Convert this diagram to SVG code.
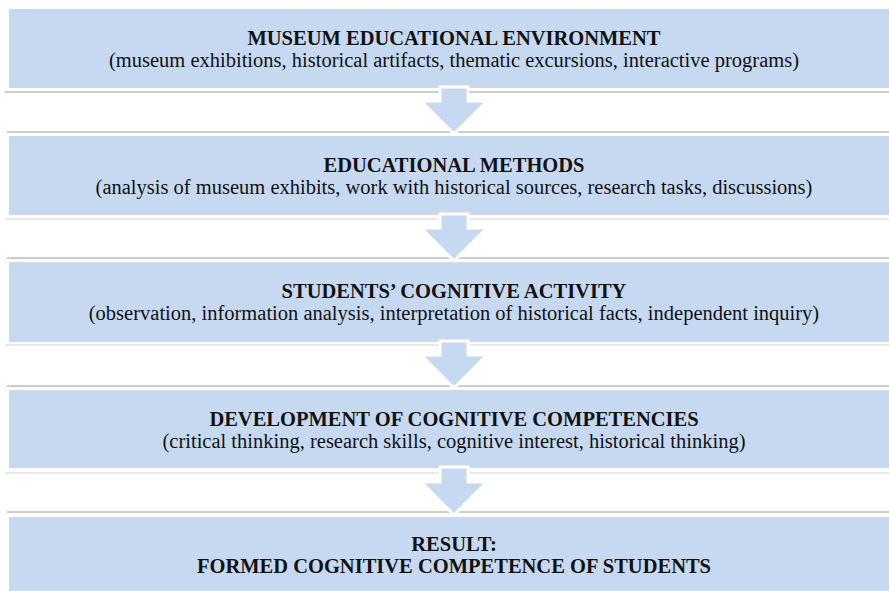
<svg xmlns="http://www.w3.org/2000/svg" width="889" height="591" viewBox="0 0 889 591">
<style>
.box{fill:#C6D9F1}
.t{font-family:"Liberation Serif","Times New Roman",serif;font-size:20.5px;fill:#111;text-anchor:middle}
.b{font-weight:bold}
.l1{stroke:#d4d4d4;stroke-width:1.2}
.l2{stroke:#bdbdbd;stroke-width:1.5}
.arr{fill:#C6D9F1;stroke:#ffffff;stroke-width:3;stroke-linejoin:miter}
</style>
<rect width="889" height="591" fill="#ffffff"/>
<g id="lines">
<line class="l2" x1="5" y1="92" x2="889" y2="92"/>
<line class="l2" x1="7" y1="132" x2="889" y2="132"/>
<line class="l1" x1="5" y1="219" x2="889" y2="219"/>
<line class="l2" x1="7" y1="258" x2="889" y2="258"/>
<line class="l1" x1="5" y1="345" x2="889" y2="345"/>
<line class="l2" x1="7" y1="386" x2="889" y2="386"/>
<line class="l1" x1="5" y1="473" x2="889" y2="473"/>
<line class="l2" x1="7" y1="512" x2="889" y2="512"/>
</g>
<g id="n1">
<rect class="box" x="9" y="9" width="880" height="79"/>
<text class="t b" x="454" y="45">MUSEUM EDUCATIONAL ENVIRONMENT</text>
<text class="t" x="454" y="67">(museum exhibitions, historical artifacts, thematic excursions, interactive programs)</text>
</g>
<g id="n2">
<rect class="box" x="9" y="136" width="880" height="79"/>
<text class="t b" x="454" y="172">EDUCATIONAL METHODS</text>
<text class="t" x="454" y="194">(analysis of museum exhibits, work with historical sources, research tasks, discussions)</text>
</g>
<g id="n3">
<rect class="box" x="9" y="262" width="880" height="80"/>
<text class="t b" x="454" y="298">STUDENTS’ COGNITIVE ACTIVITY</text>
<text class="t" x="454" y="320">(observation, information analysis, interpretation of historical facts, independent inquiry)</text>
</g>
<g id="n4">
<rect class="box" x="9" y="390" width="880" height="78"/>
<text class="t b" x="454" y="426">DEVELOPMENT OF COGNITIVE COMPETENCIES</text>
<text class="t" x="454" y="448">(critical thinking, research skills, cognitive interest, historical thinking)</text>
</g>
<g id="n5">
<rect class="box" x="9" y="517" width="880" height="74"/>
<text class="t b" x="454" y="551">RESULT:</text>
<text class="t b" x="454" y="573">FORMED COGNITIVE COMPETENCE OF STUDENTS</text>
</g>
<g id="connectors">
<path class="arr" d="M440,87 L468,87 L468,101 L487,101 L454,134 L421,101 L440,101 Z"/>
<path class="arr" d="M440,214 L468,214 L468,228 L487,228 L454,261 L421,228 L440,228 Z"/>
<path class="arr" d="M440,341 L468,341 L468,355 L487,355 L454,388 L421,355 L440,355 Z"/>
<path class="arr" d="M440,467 L468,467 L468,482 L487,482 L454,515 L421,482 L440,482 Z"/>
</g>
</svg>
